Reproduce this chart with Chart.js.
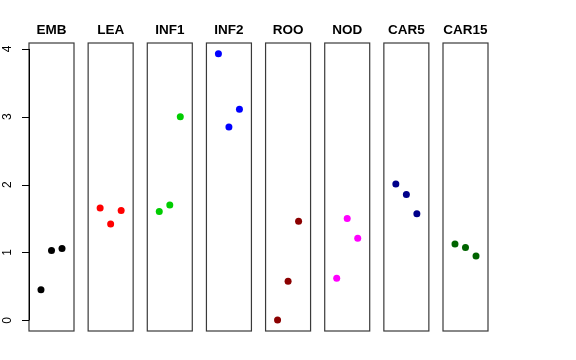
<!DOCTYPE html>
<html><head><meta charset="utf-8">
<script src="https://cdn.jsdelivr.net/npm/chart.js@4"></script>
<style>html,body{margin:0;padding:0;background:#fff}#wrap{width:576px;height:360px}</style>
</head><body><div id="wrap"><canvas id="c" width="576" height="360"></canvas></div>
<script>
const panels = ['EMB','LEA','INF1','INF2','ROO','NOD','CAR5','CAR15'];
const colors = ['#000000','#FF0000','#00CD00','#0000FF','#8B0000','#FF00FF','#00008B','#006400'];
const EMB   = [0.45, 1.03, 1.06];
const LEA   = [1.655, 1.42, 1.62];
const INF1  = [1.605, 1.70, 3.00];
const INF2  = [3.93, 2.85, 3.11];
const ROO   = [0.005, 0.575, 1.46];
const NOD   = [0.62, 1.50, 1.21];
const CAR5  = [2.01, 1.855, 1.57];
const CAR15 = [1.125, 1.075, 0.95];
const seriesValues = [EMB, LEA, INF1, INF2, ROO, NOD, CAR5, CAR15];
const slots = [1, 2, 3];
const yTicks = [0, 1, 2, 3, 4];

const PERIOD = 5.625;      // panel spacing in x units
const HALF = 2.14;         // half-width of each panel around centre slot
const xMin = 2 - HALF, xMax = (panels.length - 1) * PERIOD + 2 + HALF;
const yMin = -0.157, yMax = 4.087;

const datasets = panels.map((name, i) => ({
  label: name,
  data: seriesValues[i].map((v, j) => ({ x: i * PERIOD + slots[j], y: v })),
  backgroundColor: colors[i],
  borderWidth: 0,
  pointRadius: 3.5,
  pointHoverRadius: 3.5
}));

const panelPlugin = {
  id: 'panels',
  beforeDatasetsDraw(chart) {
    const { ctx, chartArea, scales } = chart;
    const xs = scales.x;
    ctx.save();
    ctx.strokeStyle = '#3a3a3a';
    ctx.lineWidth = 1.2;
    panels.forEach((name, i) => {
      const l = xs.getPixelForValue(i * PERIOD + 2 - HALF);
      const r = xs.getPixelForValue(i * PERIOD + 2 + HALF);
      ctx.strokeRect(l, chartArea.top, r - l, chartArea.bottom - chartArea.top);
    });
    ctx.restore();
  },
  afterDraw(chart) {
    const { ctx, chartArea, scales } = chart;
    const xs = scales.x, ys = scales.y;
    ctx.save();
    ctx.fillStyle = '#000';
    ctx.font = 'bold 13.5px "Liberation Sans", Arial, sans-serif';
    ctx.textAlign = 'center';
    ctx.textBaseline = 'alphabetic';
    panels.forEach((name, i) => {
      const c = xs.getPixelForValue(i * PERIOD + 2);
      ctx.fillText(name, c, 34);
    });
    // y axis (left of first panel)
    const ax = chartArea.left;
    ctx.strokeStyle = '#000';
    ctx.lineWidth = 1;
    ctx.beginPath();
    ctx.moveTo(ax + 0.5, ys.getPixelForValue(yTicks[0]));
    ctx.lineTo(ax + 0.5, ys.getPixelForValue(yTicks[yTicks.length - 1]));
    yTicks.forEach(t => {
      const py = Math.round(ys.getPixelForValue(t)) + 0.5;
      ctx.moveTo(ax - 7, py);
      ctx.lineTo(ax, py);
    });
    ctx.stroke();
    ctx.font = '12px "Liberation Sans", Arial, sans-serif';
    ctx.textAlign = 'center';
    ctx.textBaseline = 'middle';
    yTicks.forEach(t => {
      const py = ys.getPixelForValue(t);
      ctx.save();
      ctx.translate(8, py);
      ctx.rotate(-Math.PI / 2);
      ctx.fillText(String(t), 0, 0);
      ctx.restore();
    });
    ctx.restore();
  }
};

new Chart(document.getElementById('c'), {
  type: 'scatter',
  data: { datasets },
  options: {
    responsive: false,
    devicePixelRatio: 1,
    animation: false,
    layout: { padding: { left: 29, right: 88, top: 43, bottom: 29 } },
    plugins: { legend: { display: false }, tooltip: { enabled: false } },
    scales: {
      x: { type: 'linear', display: false, min: xMin, max: xMax },
      y: { type: 'linear', display: false, min: yMin, max: yMax }
    }
  },
  plugins: [panelPlugin]
});
</script>
</body></html>
